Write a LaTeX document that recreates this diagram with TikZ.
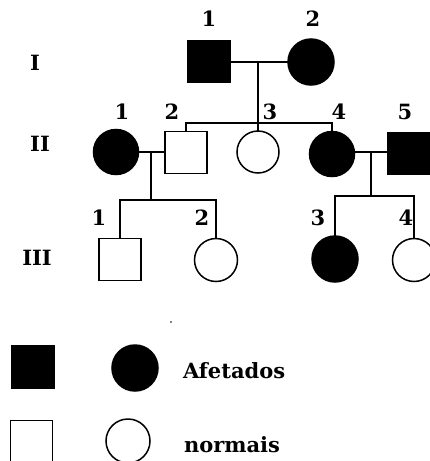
\documentclass[tikz,border=0pt]{standalone}
\usepackage{fontspec}
\setmainfont{DejaVu Serif}
\begin{document}
\begin{tikzpicture}[x=1pt,y=-1pt,
  every node/.style={inner sep=0pt,outer sep=0pt},
  lw/.style={line width=1.5pt},
  male/.style={draw,lw,rectangle,minimum size=42pt},
  female/.style={draw,lw,circle,minimum size=44pt},
  aff/.style={fill=black},
  num/.style={font=\bfseries\fontsize{21}{21}\selectfont},
  gen/.style={font=\bfseries\fontsize{21}{21}\selectfont},
  leg/.style={font=\bfseries\fontsize{21}{21}\selectfont,anchor=west}]
\useasboundingbox (0,0) rectangle (429,461);
% generation labels
\node[gen] (gI) at (35,63) {I};
\node[gen] (gII) at (40,144) {II};
\node[gen] (gIII) at (37,258) {III};
% generation I
\node[male,aff] (I1) at (209,61.5) {};
\node[female,aff,minimum size=46pt] (I2) at (311,62) {};
\node[num] (nI1) at (209,19) {1};
\node[num] (nI2) at (313,19) {2};
% generation II
\node[female,aff,minimum size=45pt] (II1) at (116,152) {};
\node[male] (II2) at (186,152.5) {};
\node[female,minimum size=42pt] (II3) at (258,152) {};
\node[female,aff,minimum size=45pt] (II4) at (332,154) {};
\node[male,aff] (II5) at (409,153.5) {};
\node[num] (nII1) at (122,112) {1};
\node[num] (nII2) at (172,112) {2};
\node[num] (nII3) at (270,112) {3};
\node[num] (nII4) at (339,112) {4};
\node[num] (nII5) at (405,112) {5};
% generation III
\node[male] (III1) at (120,259.5) {};
\node[female,minimum size=43pt] (III2) at (216,260) {};
\node[female,aff,minimum size=46pt] (III3) at (335,259) {};
\node[female,minimum size=43pt] (III4) at (414,260) {};
\node[num] (nIII1) at (99,218) {1};
\node[num] (nIII2) at (202,218) {2};
\node[num] (nIII3) at (318,218) {3};
\node[num] (nIII4) at (406,218) {4};
% connectors
\coordinate (m1) at (258,62);
\coordinate (s1) at (258,123);
\draw[lw] (I1.east |- m1) -- (I2.west |- m1);
\draw[lw] (m1) -- (s1);
\draw[lw] (II2.north) |- (s1) -| (II4.north);
\draw[lw] (s1) -- (II3.north);
\coordinate (m2) at (151,152);
\coordinate (s2) at (151,200);
\draw[lw] (II1.east |- m2) -- (II2.west |- m2);
\draw[lw] (m2) -- (s2);
\draw[lw] (III1.north) |- (s2) -| (III2.north);
\coordinate (m3) at (371,152);
\coordinate (s3) at (371,196);
\draw[lw] (II4.east |- m3) -- (II5.west |- m3);
\draw[lw] (m3) -- (s3);
\draw[lw] (III3.north) |- (s3) -| (III4.north);
% stray dot
\fill (171,322) circle (0.8pt);
% legend
\node[male,aff,minimum size=43pt] (L1) at (33,367) {};
\node[female,aff,minimum size=46pt] (L2) at (135,368) {};
\node[leg] (t1) at (183,371) {Afetados};
\node[male] (L3) at (31.5,441.5) {};
\node[female] (L4) at (128,441) {};
\node[leg] (t2) at (184,445) {normais};
\end{tikzpicture}
\end{document}
